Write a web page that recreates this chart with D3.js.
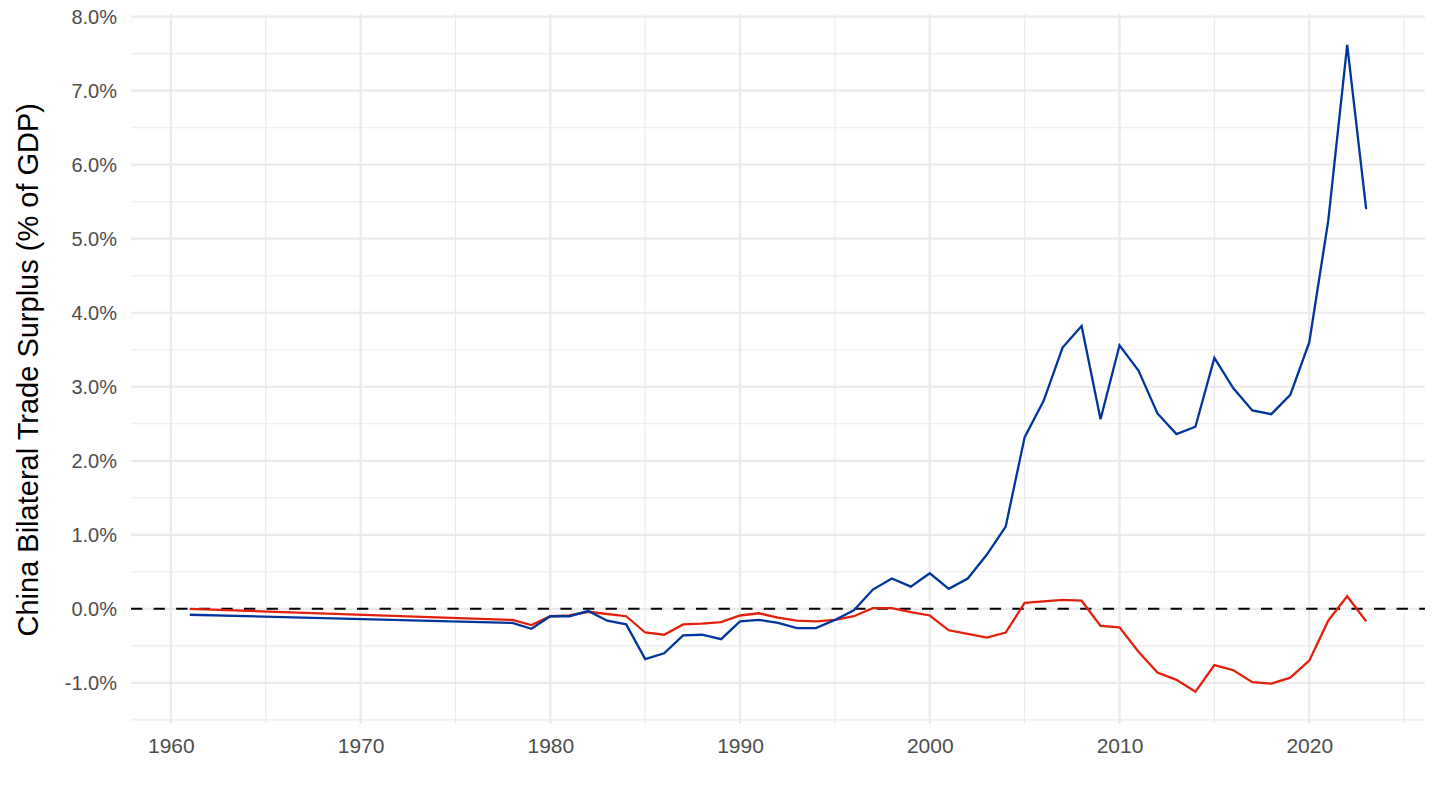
<!DOCTYPE html>
<html>
<head>
<meta charset="utf-8">
<script src="https://cdn.jsdelivr.net/npm/d3@7"></script>
<style>
  body { margin: 0; background: #fff; }
  text { font-family: "Liberation Sans", Arial, sans-serif; }
</style>
</head>
<body>
<div id="chart"></div>
<script>
var width = 1440;
var height = 810;

// plot panel (ggplot style, 5% expansion)
var margin = { left: 131, right: 15, top: 14, bottom: 86 };

var years = [1961, 1978, 1979, 1980, 1981, 1982, 1983, 1984, 1985, 1986, 1987, 1988, 1989,
  1990, 1991, 1992, 1993, 1994, 1995, 1996, 1997, 1998, 1999, 2000, 2001, 2002, 2003,
  2004, 2005, 2006, 2007, 2008, 2009, 2010, 2011, 2012, 2013, 2014, 2015, 2016, 2017,
  2018, 2019, 2020, 2021, 2022, 2023];

// blue series (% of GDP)
var blueValues = [-0.08, -0.19, -0.27, -0.10, -0.10, -0.03, -0.16, -0.21, -0.68, -0.60, -0.36,
  -0.35, -0.41, -0.17, -0.15, -0.19, -0.26, -0.26, -0.15, -0.02, 0.26, 0.41, 0.30, 0.48,
  0.27, 0.41, 0.73, 1.11, 2.32, 2.81, 3.53, 3.82, 2.56, 3.56, 3.22, 2.64, 2.36, 2.46,
  3.39, 2.98, 2.68, 2.63, 2.89, 3.60, 5.24, 7.62, 5.40];

// red series (% of GDP)
var redValues = [0.00, -0.15, -0.22, -0.10, -0.09, -0.04, -0.07, -0.10, -0.32, -0.35, -0.21,
  -0.20, -0.18, -0.09, -0.06, -0.12, -0.16, -0.17, -0.15, -0.10, 0.01, 0.01, -0.045, -0.09,
  -0.29, -0.34, -0.39, -0.32, 0.08, 0.10, 0.12, 0.11, -0.23, -0.25, -0.58, -0.86, -0.96,
  -1.12, -0.76, -0.83, -0.99, -1.01, -0.93, -0.70, -0.16, 0.17, -0.17];

var xTicks = [1960, 1970, 1980, 1990, 2000, 2010, 2020];
var xMinor = [1965, 1975, 1985, 1995, 2005, 2015, 2025];
var yTicks = [-1, 0, 1, 2, 3, 4, 5, 6, 7, 8];
var yMinor = [-1.5, -0.5, 0.5, 1.5, 2.5, 3.5, 4.5, 5.5, 6.5, 7.5];

var svg = d3.select("#chart")
  .append("svg")
  .attr("width", width)
  .attr("height", height);

var xScale = d3.scaleLinear()
  .domain([1957.9, 2026.1])
  .range([margin.left, width - margin.right]);

var yScale = d3.scaleLinear()
  .domain([-1.556, 8.036])
  .range([height - margin.bottom, margin.top]);

// grid lines
svg.append("g").selectAll("line")
  .data(yMinor).enter().append("line")
  .attr("x1", xScale.range()[0]).attr("x2", xScale.range()[1])
  .attr("y1", yScale).attr("y2", yScale)
  .attr("stroke", "#EBEBEB").attr("stroke-width", 1.1);

svg.append("g").selectAll("line")
  .data(xMinor).enter().append("line")
  .attr("y1", yScale.range()[0]).attr("y2", yScale.range()[1])
  .attr("x1", xScale).attr("x2", xScale)
  .attr("stroke", "#EBEBEB").attr("stroke-width", 1.1);

svg.append("g").selectAll("line")
  .data(yTicks).enter().append("line")
  .attr("x1", xScale.range()[0]).attr("x2", xScale.range()[1])
  .attr("y1", yScale).attr("y2", yScale)
  .attr("stroke", "#EBEBEB").attr("stroke-width", 2.2);

svg.append("g").selectAll("line")
  .data(xTicks).enter().append("line")
  .attr("y1", yScale.range()[0]).attr("y2", yScale.range()[1])
  .attr("x1", xScale).attr("x2", xScale)
  .attr("stroke", "#EBEBEB").attr("stroke-width", 2.2);

// axes (text only, like theme_minimal)
var xAxis = svg.append("g")
  .attr("transform", "translate(0," + (height - margin.bottom) + ")")
  .call(d3.axisBottom(xScale).tickValues(xTicks).tickFormat(d3.format("d")).tickSize(0).tickPadding(14));
xAxis.select(".domain").remove();
xAxis.selectAll("text")
  .attr("font-size", "21px")
  .attr("fill", "#4D4D4D")
  .style("font-family", "Liberation Sans, Arial, sans-serif");

var yAxis = svg.append("g")
  .attr("transform", "translate(" + margin.left + ",0)")
  .call(d3.axisLeft(yScale).tickValues(yTicks).tickFormat(function(d) { return d.toFixed(1) + "%"; }).tickSize(0).tickPadding(14));
yAxis.select(".domain").remove();
yAxis.selectAll("text")
  .attr("font-size", "20px")
  .attr("fill", "#4D4D4D")
  .style("font-family", "Liberation Sans, Arial, sans-serif");

// y axis title
svg.append("text")
  .attr("transform", "translate(38," + yScale(3.23) + ") rotate(-90)")
  .attr("text-anchor", "middle")
  .attr("font-size", "29px")
  .attr("fill", "#000")
  .text("China Bilateral Trade Surplus (% of GDP)");

// zero line
svg.append("line")
  .attr("x1", xScale.range()[0]).attr("x2", xScale.range()[1])
  .attr("y1", yScale(0)).attr("y2", yScale(0))
  .attr("stroke", "#000")
  .attr("stroke-width", 2)
  .attr("stroke-dasharray", "11.3,11.3");

var line = d3.line()
  .x(function(d) { return xScale(d[0]); })
  .y(function(d) { return yScale(d[1]); });

svg.append("path")
  .datum(years.map(function(y, i) { return [y, redValues[i]]; }))
  .attr("fill", "none")
  .attr("stroke", "#E2200C")
  .attr("stroke-width", 2.3)
  .attr("d", line);

svg.append("path")
  .datum(years.map(function(y, i) { return [y, blueValues[i]]; }))
  .attr("fill", "none")
  .attr("stroke", "#00369B")
  .attr("stroke-width", 2.3)
  .attr("d", line);
</script>
</body>
</html>
